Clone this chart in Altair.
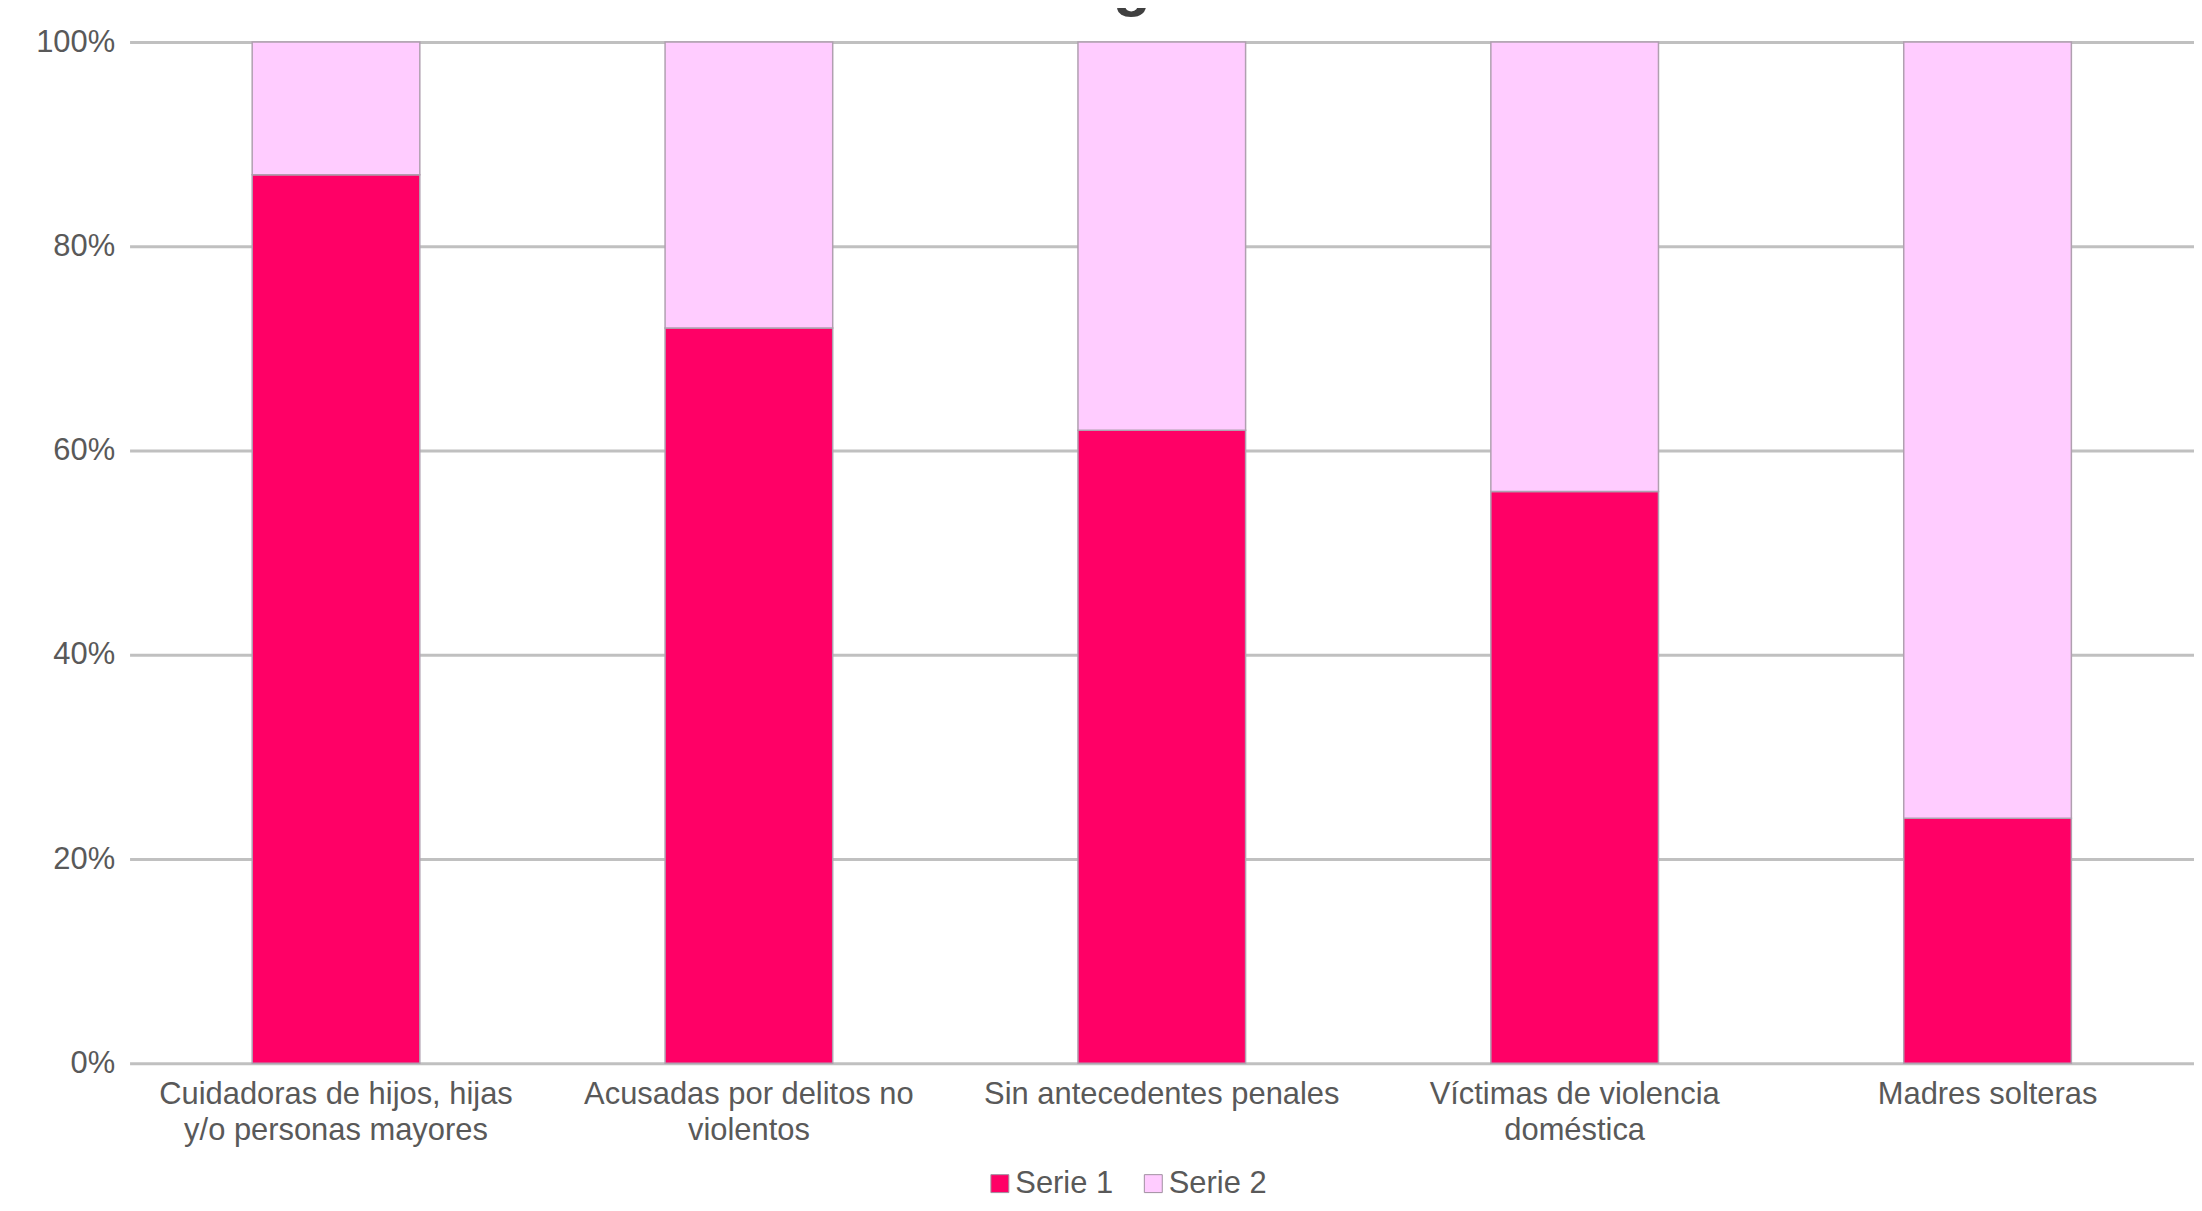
import altair as alt
import pandas as pd

categories = [
    "Cuidadoras de hijos, hijas|y/o personas mayores",
    "Acusadas por delitos no|violentos",
    "Sin antecedentes penales",
    "Víctimas de violencia|doméstica",
    "Madres solteras",
]
serie1 = [87, 72, 62, 56, 24]
serie2 = [13, 28, 38, 44, 76]
series_names = ["Serie 1", "Serie 2"]
series_colors = ["#FF0066", "#FFCCFF"]
y_ticks = [0, 20, 40, 60, 80, 100]
title_text = "Drogas"

rows = []
for c, a, b in zip(categories, serie1, serie2):
    rows.append({"cat": c, "serie": series_names[0], "val": a, "ord": 0})
    rows.append({"cat": c, "serie": series_names[1], "val": b, "ord": 1})
df = pd.DataFrame(rows)

FONT = "Liberation Sans"
LABEL_COLOR = "#595959"

bars = alt.Chart(df).mark_bar(stroke="#b0a0b0", strokeWidth=1.5).encode(
    x=alt.X(
        "cat:N",
        sort=categories,
        title=None,
        scale=alt.Scale(paddingInner=0.594, paddingOuter=0.297),
        axis=alt.Axis(
            labelAngle=0,
            ticks=False,
            domain=False,
            grid=False,
            labelExpr="split(datum.label, '|')",
            labelFontSize=31,
            labelLineHeight=36,
            labelPadding=16,
            labelLimit=1000,
            labelColor=LABEL_COLOR,
            labelFont=FONT,
        ),
    ),
    y=alt.Y(
        "val:Q",
        stack="zero",
        title=None,
        scale=alt.Scale(domain=[0, 100], nice=False),
        axis=alt.Axis(
            values=y_ticks,
            labelExpr="datum.value + '%'",
            ticks=False,
            domain=False,
            grid=True,
            gridColor="#c0c0c0",
            gridWidth=3,
            labelFontSize=31,
            labelPadding=15,
            labelColor=LABEL_COLOR,
            labelFont=FONT,
        ),
    ),
    color=alt.Color(
        "serie:N",
        scale=alt.Scale(domain=series_names, range=series_colors),
        legend=alt.Legend(
            title=None,
            orient="none",
            legendX=858,
            legendY=1130,
            direction="horizontal",
            symbolType="square",
            symbolSize=324,
            symbolStrokeColor="#a090a0",
            symbolStrokeWidth=1,
            labelFontSize=31,
            labelFont=FONT,
            labelColor=LABEL_COLOR,
            labelOffset=0,
            columnPadding=24,
        ),
    ),
    order=alt.Order("ord:Q", sort="ascending"),
)

title = alt.Chart(pd.DataFrame({"t": [title_text]})).mark_text(
    font=FONT, fontSize=62, fontWeight="bold", color="#404040",
    align="center", baseline="alphabetic",
).encode(text="t:N", x=alt.value(987), y=alt.value(-38))

chart = alt.layer(bars, title).properties(
    width=2072,
    height=1025,
    autosize=alt.AutoSizeParams(type="none"),
    padding={"left": 122, "top": 32, "right": 0, "bottom": 138},
).configure_view(stroke=None)

chart.save("out.html", embed_options={"renderer": "svg", "actions": False})
